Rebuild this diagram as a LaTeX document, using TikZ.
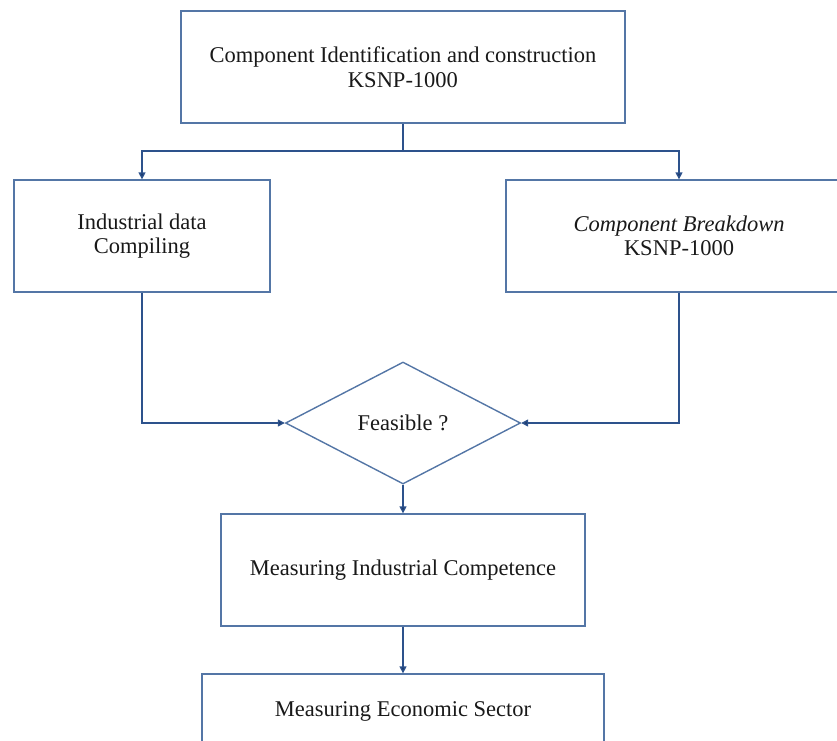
\documentclass[tikz,border=0pt]{standalone}
\usepackage{fontspec}
\setmainfont{Liberation Serif}
\usetikzlibrary{shapes.geometric,arrows.meta}
\definecolor{boxline}{RGB}{84,118,166}
\definecolor{conline}{RGB}{45,82,140}
\definecolor{tipcol}{RGB}{30,60,110}
\begin{document}
\begin{tikzpicture}[x=1pt,y=-1pt,
  box/.style={draw=boxline,line width=1.3pt,rectangle,inner sep=0pt,align=center,
    font=\fontsize{22.5}{24.5}\selectfont,text=black!90},
  decision/.style={draw=boxline,line width=1.4pt,diamond,inner sep=0pt,
    minimum width=235pt,minimum height=122pt,aspect=1.93,
    font=\fontsize{22.5}{24.5}\selectfont,text=black!90},
  conn/.style={draw=conline,line width=1.3pt},
  arr/.style={conn,-{Triangle[length=7pt,width=7pt,fill=tipcol]}}]
\useasboundingbox (0,0) rectangle (837,740);
\clip (0,0) rectangle (837,740);
\node[box,minimum width=444pt,minimum height=112pt] (top) at (403,67)
  {Component Identification and construction\\KSNP-1000};
\node[box,minimum width=256pt,minimum height=112pt] (left) at (142,236)
  {Industrial data\\Compiling};
\node[box,minimum width=346pt,minimum height=112pt] (right) at (679,236)
  {\itshape Component Breakdown\\KSNP-1000};
\node[decision] (dec) at (403,423) {Feasible ?};
\node[box,minimum width=364pt,minimum height=112pt] (mid) at (403,570)
  {Measuring Industrial Competence};
\node[box,minimum width=402pt,minimum height=74pt] (bot) at (403,711)
  {Measuring Economic Sector};
\coordinate (split) at (403,151);
\draw[conn] (top.south) -- (split);
\draw[arr] (split) -| (left.north);
\draw[arr] (split) -| (right.north);
\draw[arr] (left.south) |- (dec.west);
\draw[arr] (right.south) |- (dec.east);
\draw[arr] (dec.south) -- (mid.north);
\draw[arr] (mid.south) -- (bot.north);
\end{tikzpicture}
\end{document}
